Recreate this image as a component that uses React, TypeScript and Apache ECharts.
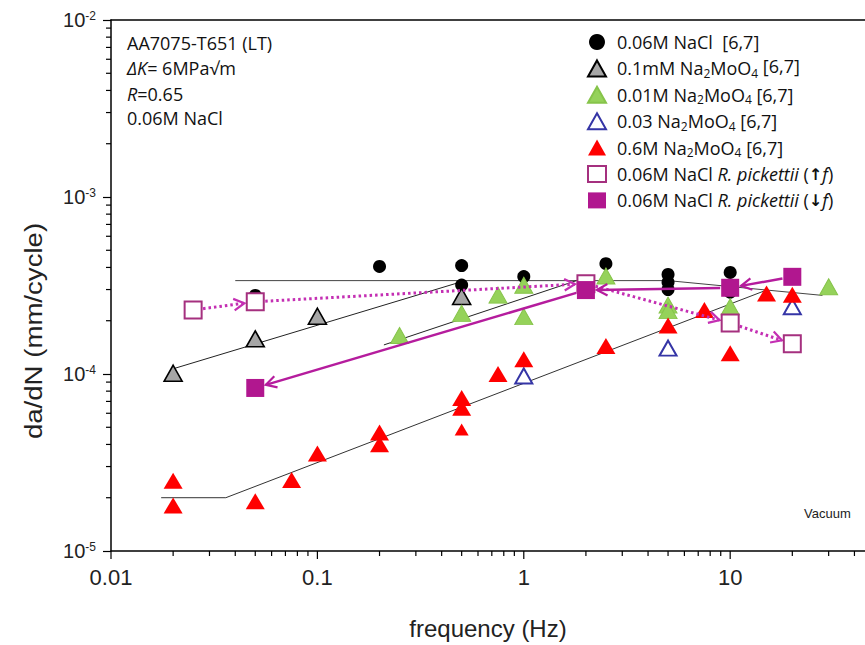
import React, { useEffect, useRef } from 'react';
import * as echarts from 'echarts';

// ---- data (frequency in Hz, da/dN in mm/cycle) ----
const naclF = [0.05, 0.2, 0.5, 0.5, 1, 2.5, 5, 5, 5, 10, 10];
const naclV = [2.78e-4, 4.05e-4, 4.1e-4, 3.18e-4, 3.55e-4, 4.2e-4, 3.65e-4, 3.3e-4, 3.0e-4, 3.75e-4, 2.9e-4];

const grayF = [0.02, 0.05, 0.1, 0.5];
const grayV = [1.01e-4, 1.58e-4, 2.12e-4, 2.74e-4];

const greenF = [0.25, 0.5, 0.75, 1, 1, 2.5, 5, 5, 10, 30];
const greenV = [1.65e-4, 2.2e-4, 2.79e-4, 3.17e-4, 2.11e-4, 3.58e-4, 2.45e-4, 2.28e-4, 2.4e-4, 3.11e-4];

const blueF = [1, 5, 20];
const blueV = [9.75e-5, 1.4e-4, 2.4e-4];

const redF = [0.02, 0.02, 0.05, 0.075, 0.1, 0.2, 0.2, 0.5, 0.5, 0.5, 0.75, 1, 2.5, 5, 7.5, 10, 15, 20];
const redV = [2.49e-5, 1.81e-5, 1.91e-5, 2.52e-5, 3.56e-5, 4.67e-5, 4.01e-5, 7.33e-5, 6.44e-5, 4.86e-5, 1.0e-4, 1.21e-4, 1.44e-4, 1.88e-4, 2.3e-4, 1.31e-4, 2.85e-4, 2.8e-4];
const redSmallIndex = 9;

const openF = [0.025, 0.05, 2, 10, 20];
const openV = [2.3e-4, 2.56e-4, 3.24e-4, 1.94e-4, 1.48e-4];

const filledF = [20, 10, 2, 0.05];
const filledV = [3.54e-4, 3.07e-4, 2.98e-4, 8.34e-5];

// fitted trend lines
const fitNaclF = [0.04, 5, 28];
const fitNaclV = [3.37e-4, 3.37e-4, 2.78e-4];
const fitGrayF = [0.02, 0.52];
const fitGrayV = [1.07e-4, 3.37e-4];
const fitGreenF = [0.21, 1.8];
const fitGreenV = [1.46e-4, 3.37e-4];
const fitRedF = [0.0175, 0.036, 15];
const fitRedV = [2.0e-5, 2.0e-5, 2.98e-4];

// axes
const xMin = 0.01;
const xMax = 45;
const yMin = 1e-5;
const yMax = 1e-2;
const xMajorTicks = [0.01, 0.1, 1, 10];
const yDecades = [1e-5, 1e-4, 1e-3];
const minorMultipliers = [2, 3, 4, 5, 6, 7, 8, 9];

const names = ['nacl', 'gray', 'green', 'blue', 'red', 'open', 'filled'];
const legendText: Record<string, string> = {
  nacl: '0.06M NaCl  [6,7]',
  gray: '0.1mM Na{sub|2}MoO{sub|4} {up|[6,7]}',
  green: '0.01M Na{sub|2}MoO{sub|4} [6,7]',
  blue: '0.03 Na{sub|2}MoO{sub|4} [6,7]',
  red: '0.6M Na{sub|2}MoO{sub|4} [6,7]',
  open: '0.06M NaCl {i|R. pickettii} ({b|\u2191}{i|f})',
  filled: '0.06M NaCl {i|R. pickettii} ({b|\u2193}{i|f})',
};

const pts = (f: number[], v: number[]) => f.map((x, i) => [x, v[i]]);
const segs = (f: number[], v: number[]) =>
  f.slice(0, -1).map((x, i) => [x, v[i], f[i + 1], v[i + 1]]);

const PURPLE = '#b1178f';
const PURPLE_OPEN = '#a5307f';
const PURPLE_SOLID = '#b51c9d';
const PURPLE_DOT = '#c42fb3';

function arrowRender(color: string, dashed: boolean) {
  return (params: any, api: any) => {
    const a = api.coord([api.value(0), api.value(1)]);
    const b = api.coord([api.value(2), api.value(3)]);
    const dx = b[0] - a[0];
    const dy = b[1] - a[1];
    const L = Math.hypot(dx, dy);
    const ux = dx / L;
    const uy = dy / L;
    const g0 = 10;
    const g1 = 11;
    const s = [a[0] + ux * g0, a[1] + uy * g0];
    const e = [b[0] - ux * g1, b[1] - uy * g1];
    const hl = 12;
    const ang = 0.5;
    const c = Math.cos(ang);
    const sn = Math.sin(ang);
    const bx = -ux;
    const by = -uy;
    const h1 = [e[0] + hl * (bx * c - by * sn), e[1] + hl * (bx * sn + by * c)];
    const h2 = [e[0] + hl * (bx * c + by * sn), e[1] + hl * (-bx * sn + by * c)];
    return {
      type: 'group',
      children: [
        {
          type: 'line',
          shape: { x1: s[0], y1: s[1], x2: e[0], y2: e[1] },
          style: { stroke: color, lineWidth: dashed ? 3 : 2.5, lineDash: dashed ? [2.5, 3] : null },
        },
        {
          type: 'polyline',
          shape: { points: [h1, e, h2] },
          style: { stroke: color, lineWidth: 2.2, fill: null },
        },
      ],
    };
  };
}

export default function App() {
  const ref = useRef<HTMLDivElement>(null);
  useEffect(() => {
    const chart = echarts.init(ref.current!, null, { renderer: 'svg' });

    const xMinor: number[][] = [];
    xMajorTicks.forEach((d) =>
      minorMultipliers.forEach((m) => {
        const v = m * d;
        if (v < xMax) xMinor.push([v, yMin, 5]);
      })
    );
    const xMajor = xMajorTicks.map((v) => [v, yMin, 8]);
    const yMinor: number[][] = [];
    yDecades.forEach((d) => minorMultipliers.forEach((m) => yMinor.push([xMin, m * d, 5])));

    const fitLine = (f: number[], v: number[], color = '#333') => ({
      type: 'line',
      data: pts(f, v),
      symbol: 'none',
      silent: true,
      z: 1,
      lineStyle: { color, width: 1 },
    });

    const option: any = {
      animation: false,
      backgroundColor: '#fff',
      textStyle: { fontFamily: 'Liberation Sans, Arial, sans-serif' },
      grid: { left: 111, top: 20, width: 754, height: 534, containLabel: false, show: false },
      xAxis: [
        {
          type: 'log',
          logBase: 10,
          min: xMin,
          max: xMax,
          name: 'frequency (Hz)',
          nameLocation: 'middle',
          nameGap: 65,
          nameTextStyle: { fontSize: 24, color: '#222', fontFamily: 'Liberation Sans' },
          axisLine: { show: true, lineStyle: { color: '#000', width: 1.5 } },
          axisTick: { show: false },
          splitLine: { show: false },
          axisLabel: {
            fontSize: 22,
            color: '#222',
            margin: 15,
            showMaxLabel: false,
            fontFamily: 'Liberation Sans',
            formatter: (v: number) => String(Number(v.toPrecision(2))),
          },
        },
        {
          type: 'log',
          logBase: 10,
          min: xMin,
          max: xMax,
          position: 'top',
          axisLine: { show: true, lineStyle: { color: '#000', width: 1.5 } },
          axisTick: { show: false },
          axisLabel: { show: false },
          splitLine: { show: false },
        },
      ],
      yAxis: {
        type: 'log',
        logBase: 10,
        min: yMin,
        max: yMax,
        axisLine: { show: true, lineStyle: { color: '#000', width: 1.5 } },
        axisTick: { show: true, length: 8, lineStyle: { color: '#000', width: 1.2 } },
        splitLine: { show: false },
        axisLabel: {
          margin: 15,
          color: '#222',
          fontSize: 20,
          fontFamily: 'Liberation Sans',
          formatter: (v: number) => '10{sup|' + Math.round(Math.log10(v)) + '}',
          rich: {
            sup: { fontSize: 12, verticalAlign: 'top', lineHeight: 12, color: '#222', fontFamily: 'Liberation Sans' },
          },
        },
      },
      legend: {
        orient: 'vertical',
        left: 587,
        top: 31,
        padding: 0,
        itemWidth: 18,
        itemHeight: 16,
        itemGap: 4.4,
        selectedMode: false,
        data: names,
        formatter: (n: string) => legendText[n],
        textStyle: {
          fontFamily: 'Open Sans',
          fontSize: 18,
          lineHeight: 22,
          color: '#111',
          padding: [0, 0, 0, 6],
          rich: {
            sub: { fontFamily: 'Open Sans', fontSize: 12, lineHeight: 12, verticalAlign: 'bottom', color: '#111' },
            up: { fontFamily: 'Open Sans', fontSize: 18, lineHeight: 18, verticalAlign: 'top', color: '#111' },
            i: { fontFamily: 'Open Sans', fontSize: 18, lineHeight: 22, fontStyle: 'italic', color: '#111' },
            b: { fontFamily: 'DejaVu Sans', fontSize: 16, lineHeight: 22, fontWeight: 'bold', color: '#111' },
          },
        },
      },
      graphic: [
        {
          type: 'text',
          x: 127,
          y: 43,
          style: { text: 'AA7075-T651 (LT)', fontSize: 18, fontFamily: 'Open Sans', fill: '#111', verticalAlign: 'middle' },
        },
        {
          type: 'text',
          x: 127,
          y: 68,
          style: {
            text: '{i|\u0394K}= 6MPa\u221Am',
            fontSize: 18,
            fontFamily: 'Open Sans',
            fill: '#111',
            verticalAlign: 'middle',
            rich: { i: { fontSize: 18, fontFamily: 'Open Sans', fontStyle: 'italic', fill: '#111' } },
          },
        },
        {
          type: 'text',
          x: 127,
          y: 94,
          style: {
            text: '{i|R}=0.65',
            fontSize: 18,
            fontFamily: 'Open Sans',
            fill: '#111',
            verticalAlign: 'middle',
            rich: { i: { fontSize: 18, fontFamily: 'Open Sans', fontStyle: 'italic', fill: '#111' } },
          },
        },
        {
          type: 'text',
          x: 127,
          y: 118,
          style: { text: '0.06M NaCl', fontSize: 18, fontFamily: 'Open Sans', fill: '#111', verticalAlign: 'middle' },
        },
        {
          type: 'text',
          x: 804,
          y: 513,
          style: { text: 'Vacuum', fontSize: 13, fontFamily: 'Liberation Sans', fill: '#222', verticalAlign: 'middle' },
        },
        {
          type: 'text',
          x: 34,
          y: 331,
          rotation: Math.PI / 2,
          scaleX: 1.15,
          style: {
            text: 'da/dN (mm/cycle)',
            fontSize: 24,
            fontFamily: 'Liberation Sans',
            fill: '#222',
            align: 'center',
            verticalAlign: 'middle',
          },
        },
      ],
      series: [
        fitLine(fitNaclF, fitNaclV, '#444'),
        fitLine(fitGrayF, fitGrayV, '#222'),
        fitLine(fitGreenF, fitGreenV, '#222'),
        fitLine(fitRedF, fitRedV, '#333'),
        {
          type: 'custom',
          silent: true,
          clip: false,
          z: 1,
          data: [...xMajor, ...xMinor],
          encode: { x: 0, y: 1 },
          renderItem: (params: any, api: any) => {
            const p = api.coord([api.value(0), api.value(1)]);
            return {
              type: 'line',
              shape: { x1: p[0], y1: p[1], x2: p[0], y2: p[1] + api.value(2) },
              style: { stroke: '#000', lineWidth: 1.2 },
            };
          },
        },
        {
          type: 'custom',
          silent: true,
          clip: false,
          z: 1,
          data: yMinor,
          encode: { x: 0, y: 1 },
          renderItem: (params: any, api: any) => {
            const p = api.coord([api.value(0), api.value(1)]);
            return {
              type: 'line',
              shape: { x1: p[0], y1: p[1], x2: p[0] - api.value(2), y2: p[1] },
              style: { stroke: '#000', lineWidth: 1.2 },
            };
          },
        },
        {
          name: 'nacl',
          type: 'scatter',
          symbol: 'circle',
          symbolSize: 13,
          z: 3,
          itemStyle: { color: '#000', opacity: 1 },
          data: pts(naclF, naclV),
        },
        {
          name: 'gray',
          type: 'scatter',
          symbol: 'triangle',
          symbolSize: [18, 16],
          z: 3,
          itemStyle: { color: '#a6a6a6', borderColor: '#000', borderWidth: 1.6, opacity: 1 },
          data: pts(grayF, grayV),
        },
        {
          name: 'green',
          type: 'scatter',
          symbol: 'triangle',
          symbolSize: [18, 16],
          z: 3,
          itemStyle: { color: '#95d25a', borderColor: '#86c44a', borderWidth: 1, opacity: 1 },
          data: pts(greenF, greenV),
        },
        {
          name: 'blue',
          type: 'scatter',
          symbol: 'triangle',
          symbolSize: [17, 15],
          z: 3,
          itemStyle: { color: '#ffffff', borderColor: '#3535a6', borderWidth: 2, opacity: 1 },
          data: pts(blueF, blueV),
        },
        {
          name: 'red',
          type: 'scatter',
          symbol: 'triangle',
          symbolSize: [19, 16],
          z: 3,
          itemStyle: { color: '#ff0000', opacity: 1 },
          data: pts(redF, redV).map((p, i) => (i === redSmallIndex ? { value: p, symbolSize: [14, 12] } : p)),
        },
        {
          type: 'custom',
          silent: true,
          clip: false,
          z: 4,
          data: segs(openF, openV),
          encode: { x: [0, 2], y: [1, 3] },
          renderItem: arrowRender(PURPLE_DOT, true),
        },
        {
          type: 'custom',
          silent: true,
          clip: false,
          z: 4,
          data: segs(filledF, filledV),
          encode: { x: [0, 2], y: [1, 3] },
          renderItem: arrowRender(PURPLE_SOLID, false),
        },
        {
          name: 'open',
          type: 'scatter',
          symbol: 'rect',
          symbolSize: 17,
          z: 5,
          itemStyle: { color: '#ffffff', borderColor: PURPLE_OPEN, borderWidth: 2, opacity: 1 },
          data: pts(openF, openV),
        },
        {
          name: 'filled',
          type: 'scatter',
          symbol: 'rect',
          symbolSize: 18,
          z: 5,
          itemStyle: { color: PURPLE, opacity: 1 },
          data: pts(filledF, filledV),
        },
      ],
    };

    chart.setOption(option);
    return () => chart.dispose();
  }, []);

  return (
    <div
      ref={ref}
      style={{ position: 'fixed', left: 0, top: 0, width: 865, height: 645, background: '#fff' }}
    />
  );
}
